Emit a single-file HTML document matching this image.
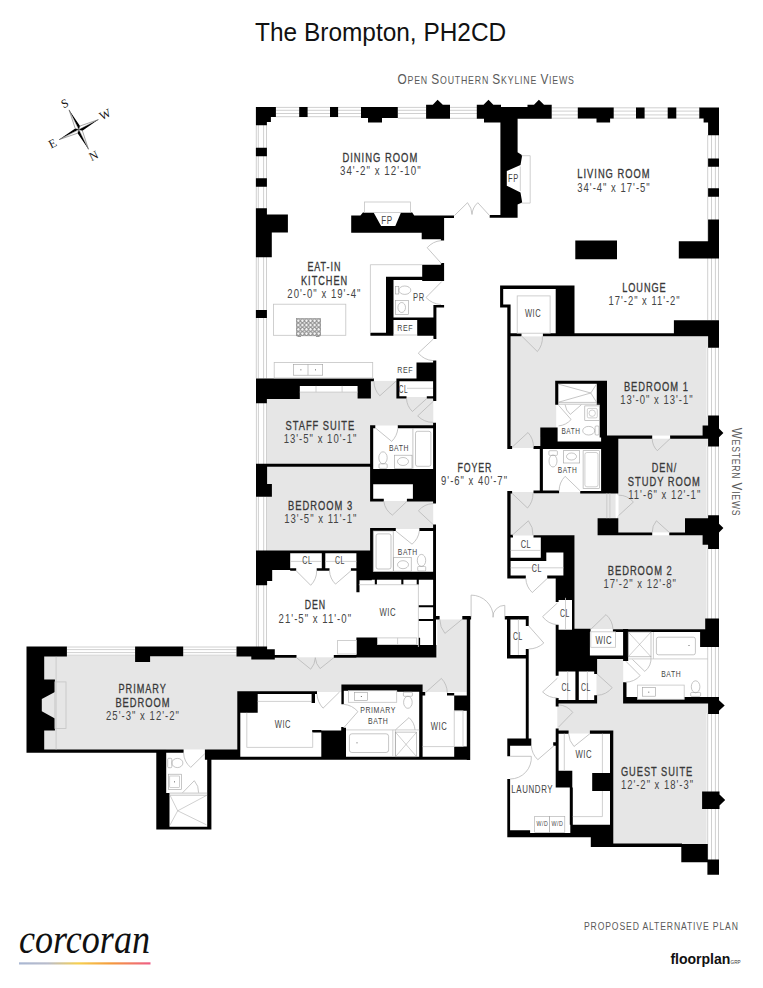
<!DOCTYPE html>
<html lang="en">
<head>
<meta charset="utf-8">
<title>The Brompton, PH2CD</title>
<style>
html,body{margin:0;padding:0;background:#fff;}
body{width:763px;height:988px;overflow:hidden;font-family:"Liberation Sans",sans-serif;}
svg{display:block;}
text{font-family:"Liberation Sans",sans-serif;}
.lb{fill:#383838;letter-spacing:1.3px;stroke:#383838;stroke-width:0.3px;}
.dm{fill:#444;letter-spacing:1.3px;}
.sm{fill:#444;letter-spacing:0.8px;}
.ttl{fill:#111;}
.cap{fill:#5a5a5a;letter-spacing:1px;}
.serif{font-family:"Liberation Serif",serif;}
</style>
</head>
<body>
<svg width="763" height="988" viewBox="0 0 763 988">
<defs>
<linearGradient id="cg" x1="0" y1="0" x2="1" y2="0">
<stop offset="0" stop-color="#a9b7d3"/>
<stop offset="0.22" stop-color="#b9bccb"/>
<stop offset="0.45" stop-color="#f6cf4e"/>
<stop offset="0.7" stop-color="#f49a3c"/>
<stop offset="1" stop-color="#ee5d86"/>
</linearGradient>
<pattern id="hatch" width="4.07" height="4.3" patternUnits="userSpaceOnUse" x="296.3" y="318.6">
<rect width="4.07" height="4.3" fill="#dcdcdc"/>
<circle cx="2.03" cy="2.15" r="1.7" fill="#f4f4f4" stroke="#5a5a5a" stroke-width="0.65"/>
</pattern>
</defs>
<rect x="266.9" y="386" width="104.8" height="78.5" fill="#e6e6e6"/>
<rect x="371" y="380.9" width="26.5" height="44.6" fill="#e6e6e6"/>
<rect x="397" y="397" width="36.3" height="28.5" fill="#e6e6e6"/>
<rect x="266.9" y="467" width="104.8" height="85" fill="#e6e6e6"/>
<rect x="370" y="501" width="63.2" height="28" fill="#e6e6e6"/>
<rect x="41" y="655.6" width="213" height="94.4" fill="#e6e6e6"/>
<rect x="230" y="657.3" width="237" height="34.7" fill="#e6e6e6"/>
<rect x="437.3" y="619.5" width="29.7" height="38.5" fill="#e6e6e6"/>
<rect x="422" y="686" width="45" height="8" fill="#e6e6e6"/>
<rect x="511" y="336.4" width="198" height="100.6" fill="#e6e6e6"/>
<rect x="511" y="437" width="29" height="11" fill="#e6e6e6"/>
<rect x="617" y="438" width="92" height="95" fill="#e6e6e6"/>
<rect x="510" y="492" width="105.8" height="43.5" fill="#e6e6e6"/>
<rect x="575" y="535" width="134" height="94" fill="#e6e6e6"/>
<rect x="598" y="519" width="111" height="17" fill="#e6e6e6"/>
<rect x="596.5" y="658.3" width="26.7" height="43.7" fill="#e6e6e6"/>
<rect x="557.3" y="701.7" width="68" height="32" fill="#e6e6e6"/>
<rect x="613.3" y="701.7" width="95.7" height="142.3" fill="#e6e6e6"/>
<rect x="299.8" y="385.9" width="57.8" height="6.2" fill="#fff"/>
<rect x="373.2" y="428.3" width="59.9" height="40.6" fill="#fff"/>
<rect x="373.2" y="484.3" width="39.7" height="14.5" fill="#fff"/>
<rect x="373.2" y="531" width="59.9" height="40.5" fill="#fff"/>
<rect x="290.2" y="553.3" width="66.2" height="14.9" fill="#fff"/>
<rect x="358.9" y="579.5" width="74.6" height="65.6" fill="#fff"/>
<rect x="166.2" y="749.5" width="41" height="77.2" fill="#fff"/>
<rect x="257.7" y="694.1" width="87.3" height="18.7" fill="#fff"/>
<rect x="240.3" y="712.8" width="81" height="44" fill="#fff"/>
<rect x="312" y="694" width="30" height="36" fill="#fff"/>
<rect x="343.8" y="690.7" width="75.4" height="66.1" fill="#fff"/>
<rect x="422.6" y="692" width="44.1" height="64.8" fill="#fff"/>
<rect x="558.3" y="383.8" width="38.5" height="21.2" fill="#fff"/>
<rect x="556.2" y="405" width="43.5" height="36.6" fill="#fff"/>
<rect x="542.9" y="449" width="58.2" height="41.9" fill="#fff"/>
<rect x="652.2" y="435.6" width="17.9" height="3.1" fill="#fff"/>
<rect x="615.7" y="495.1" width="2.8" height="21.4" fill="#fff"/>
<rect x="652.2" y="532.4" width="17.1" height="2.9" fill="#fff"/>
<rect x="510.6" y="537.6" width="30.2" height="20" fill="#fff"/>
<rect x="510.6" y="561" width="52.8" height="14.5" fill="#fff"/>
<rect x="546.3" y="552.4" width="17.1" height="8.6" fill="#fff"/>
<rect x="558.6" y="597.8" width="13.4" height="32" fill="#fff"/>
<rect x="589.9" y="629" width="33.2" height="26.8" fill="#fff"/>
<rect x="628.2" y="632" width="79.6" height="65" fill="#fff"/>
<rect x="637.6" y="685.1" width="46.6" height="14.2" fill="#fff"/>
<rect x="558.6" y="671.4" width="35.6" height="28.6" fill="#fff"/>
<rect x="558.6" y="733.7" width="51.4" height="91" fill="#fff"/>
<rect x="276" y="107" width="85" height="10.1" fill="#fff"/>
<line x1="276" y1="107.4" x2="361" y2="107.4" stroke="#c4c4c4" stroke-width="0.8"/>
<line x1="276" y1="110.3" x2="361" y2="110.3" stroke="#c4c4c4" stroke-width="0.8"/>
<line x1="276" y1="113.5" x2="361" y2="113.5" stroke="#c4c4c4" stroke-width="0.8"/>
<line x1="276" y1="116.7" x2="361" y2="116.7" stroke="#c4c4c4" stroke-width="0.8"/>
<rect x="398" y="107" width="28" height="11.6" fill="#fff"/>
<line x1="398" y1="107.4" x2="426" y2="107.4" stroke="#c4c4c4" stroke-width="0.8"/>
<line x1="398" y1="110.3" x2="426" y2="110.3" stroke="#c4c4c4" stroke-width="0.8"/>
<line x1="398" y1="113.5" x2="426" y2="113.5" stroke="#c4c4c4" stroke-width="0.8"/>
<line x1="398" y1="118.2" x2="426" y2="118.2" stroke="#c4c4c4" stroke-width="0.8"/>
<rect x="450" y="107" width="27" height="11.7" fill="#fff"/>
<line x1="450" y1="107.4" x2="477" y2="107.4" stroke="#c4c4c4" stroke-width="0.8"/>
<line x1="450" y1="110.3" x2="477" y2="110.3" stroke="#c4c4c4" stroke-width="0.8"/>
<line x1="450" y1="113.5" x2="477" y2="113.5" stroke="#c4c4c4" stroke-width="0.8"/>
<line x1="450" y1="118.3" x2="477" y2="118.3" stroke="#c4c4c4" stroke-width="0.8"/>
<rect x="551.7" y="107.4" width="148.3" height="11.2" fill="#fff"/>
<line x1="551.7" y1="107.8" x2="700" y2="107.8" stroke="#c4c4c4" stroke-width="0.8"/>
<line x1="551.7" y1="111.1" x2="700" y2="111.1" stroke="#c4c4c4" stroke-width="0.8"/>
<line x1="551.7" y1="114.9" x2="700" y2="114.9" stroke="#c4c4c4" stroke-width="0.8"/>
<line x1="551.7" y1="118.2" x2="700" y2="118.2" stroke="#c4c4c4" stroke-width="0.8"/>
<rect x="255.9" y="125" width="11" height="253.4" fill="#fff"/>
<line x1="256.3" y1="125" x2="256.3" y2="378.4" stroke="#c4c4c4" stroke-width="0.8"/>
<line x1="258.3" y1="125" x2="258.3" y2="378.4" stroke="#c4c4c4" stroke-width="0.8"/>
<line x1="263.6" y1="125" x2="263.6" y2="378.4" stroke="#c4c4c4" stroke-width="0.8"/>
<line x1="266.5" y1="125" x2="266.5" y2="378.4" stroke="#c4c4c4" stroke-width="0.8"/>
<rect x="256" y="403" width="10.9" height="61.3" fill="#fff"/>
<line x1="256.4" y1="403" x2="256.4" y2="464.3" stroke="#c4c4c4" stroke-width="0.8"/>
<line x1="258.4" y1="403" x2="258.4" y2="464.3" stroke="#c4c4c4" stroke-width="0.8"/>
<line x1="263.7" y1="403" x2="263.7" y2="464.3" stroke="#c4c4c4" stroke-width="0.8"/>
<line x1="266.5" y1="403" x2="266.5" y2="464.3" stroke="#c4c4c4" stroke-width="0.8"/>
<rect x="256" y="496.7" width="10.9" height="55.3" fill="#fff"/>
<line x1="256.4" y1="496.7" x2="256.4" y2="552" stroke="#c4c4c4" stroke-width="0.8"/>
<line x1="258.4" y1="496.7" x2="258.4" y2="552" stroke="#c4c4c4" stroke-width="0.8"/>
<line x1="263.7" y1="496.7" x2="263.7" y2="552" stroke="#c4c4c4" stroke-width="0.8"/>
<line x1="266.5" y1="496.7" x2="266.5" y2="552" stroke="#c4c4c4" stroke-width="0.8"/>
<rect x="256" y="585" width="10.9" height="62" fill="#fff"/>
<line x1="256.4" y1="585" x2="256.4" y2="647" stroke="#c4c4c4" stroke-width="0.8"/>
<line x1="258.4" y1="585" x2="258.4" y2="647" stroke="#c4c4c4" stroke-width="0.8"/>
<line x1="263.7" y1="585" x2="263.7" y2="647" stroke="#c4c4c4" stroke-width="0.8"/>
<line x1="266.5" y1="585" x2="266.5" y2="647" stroke="#c4c4c4" stroke-width="0.8"/>
<rect x="706.6" y="135" width="12.3" height="185" fill="#fff"/>
<line x1="707.7" y1="135" x2="707.7" y2="320" stroke="#c4c4c4" stroke-width="0.8"/>
<line x1="711.5" y1="135" x2="711.5" y2="320" stroke="#c4c4c4" stroke-width="0.8"/>
<line x1="715.4" y1="135" x2="715.4" y2="320" stroke="#c4c4c4" stroke-width="0.8"/>
<line x1="718.5" y1="135" x2="718.5" y2="320" stroke="#c4c4c4" stroke-width="0.8"/>
<rect x="706.6" y="347.5" width="12.3" height="69.5" fill="#fff"/>
<line x1="707.7" y1="347.5" x2="707.7" y2="417" stroke="#c4c4c4" stroke-width="0.8"/>
<line x1="711.5" y1="347.5" x2="711.5" y2="417" stroke="#c4c4c4" stroke-width="0.8"/>
<line x1="715.4" y1="347.5" x2="715.4" y2="417" stroke="#c4c4c4" stroke-width="0.8"/>
<line x1="718.5" y1="347.5" x2="718.5" y2="417" stroke="#c4c4c4" stroke-width="0.8"/>
<rect x="706.6" y="446" width="12.3" height="70" fill="#fff"/>
<line x1="707.7" y1="446" x2="707.7" y2="516" stroke="#c4c4c4" stroke-width="0.8"/>
<line x1="711.5" y1="446" x2="711.5" y2="516" stroke="#c4c4c4" stroke-width="0.8"/>
<line x1="715.4" y1="446" x2="715.4" y2="516" stroke="#c4c4c4" stroke-width="0.8"/>
<line x1="718.5" y1="446" x2="718.5" y2="516" stroke="#c4c4c4" stroke-width="0.8"/>
<rect x="706.6" y="548" width="12.3" height="71" fill="#fff"/>
<line x1="707.7" y1="548" x2="707.7" y2="619" stroke="#c4c4c4" stroke-width="0.8"/>
<line x1="711.5" y1="548" x2="711.5" y2="619" stroke="#c4c4c4" stroke-width="0.8"/>
<line x1="715.4" y1="548" x2="715.4" y2="619" stroke="#c4c4c4" stroke-width="0.8"/>
<line x1="718.5" y1="548" x2="718.5" y2="619" stroke="#c4c4c4" stroke-width="0.8"/>
<rect x="706.6" y="646" width="12.3" height="51" fill="#fff"/>
<line x1="707.7" y1="646" x2="707.7" y2="697" stroke="#c4c4c4" stroke-width="0.8"/>
<line x1="711.5" y1="646" x2="711.5" y2="697" stroke="#c4c4c4" stroke-width="0.8"/>
<line x1="715.4" y1="646" x2="715.4" y2="697" stroke="#c4c4c4" stroke-width="0.8"/>
<line x1="718.5" y1="646" x2="718.5" y2="697" stroke="#c4c4c4" stroke-width="0.8"/>
<rect x="706.6" y="713" width="12.3" height="80" fill="#fff"/>
<line x1="707.7" y1="713" x2="707.7" y2="793" stroke="#c4c4c4" stroke-width="0.8"/>
<line x1="711.5" y1="713" x2="711.5" y2="793" stroke="#c4c4c4" stroke-width="0.8"/>
<line x1="715.4" y1="713" x2="715.4" y2="793" stroke="#c4c4c4" stroke-width="0.8"/>
<line x1="718.5" y1="713" x2="718.5" y2="793" stroke="#c4c4c4" stroke-width="0.8"/>
<rect x="706.6" y="809" width="12.3" height="52" fill="#fff"/>
<line x1="707.7" y1="809" x2="707.7" y2="861" stroke="#c4c4c4" stroke-width="0.8"/>
<line x1="711.5" y1="809" x2="711.5" y2="861" stroke="#c4c4c4" stroke-width="0.8"/>
<line x1="715.4" y1="809" x2="715.4" y2="861" stroke="#c4c4c4" stroke-width="0.8"/>
<line x1="718.5" y1="809" x2="718.5" y2="861" stroke="#c4c4c4" stroke-width="0.8"/>
<rect x="66.9" y="646.6" width="68.2" height="9" fill="#fff"/>
<line x1="66.9" y1="647" x2="135.1" y2="647" stroke="#c4c4c4" stroke-width="0.8"/>
<line x1="66.9" y1="649.6" x2="135.1" y2="649.6" stroke="#c4c4c4" stroke-width="0.8"/>
<line x1="66.9" y1="652.6" x2="135.1" y2="652.6" stroke="#c4c4c4" stroke-width="0.8"/>
<line x1="66.9" y1="655.2" x2="135.1" y2="655.2" stroke="#c4c4c4" stroke-width="0.8"/>
<rect x="183.2" y="646.6" width="53.3" height="9" fill="#fff"/>
<line x1="183.2" y1="647" x2="236.5" y2="647" stroke="#c4c4c4" stroke-width="0.8"/>
<line x1="183.2" y1="649.6" x2="236.5" y2="649.6" stroke="#c4c4c4" stroke-width="0.8"/>
<line x1="183.2" y1="652.6" x2="236.5" y2="652.6" stroke="#c4c4c4" stroke-width="0.8"/>
<line x1="183.2" y1="655.2" x2="236.5" y2="655.2" stroke="#c4c4c4" stroke-width="0.8"/>
<path fill="#000" d="M255.9 107H275.9V117H255.9ZM255.9 117H270.9V122H255.9ZM255.9 122H266.9V125.3H255.9ZM299.2 107H307.6V117.1H299.2ZM330 107H338.1V117.1H330ZM361 107H397.8V118H361ZM368 118H382V122.6H368ZM426.1 104.7H450V118.8H426.1ZM432.8 104.7L437.6 99.7L442.8 104.7ZM476.8 104.7H501V118.8H476.8ZM500 107H528V118.8H500ZM527.5 104.7H551.7V118.8H527.5ZM484 118.8H500.8V122.4H484ZM483.5 104.7L488.5 99.7L493.3 104.7ZM534 104.7L538.9 99.7L544 104.7ZM500.4 118L517.6 118L517.6 152.3L522.2 155.2L520.5 165.1L506.8 171.1L506.8 185.7L520.5 192.5L522.2 202.4L517.6 204.5L517.6 217.8L500.4 217.8ZM489.7 214.9H517.6V217.8H489.7ZM577.8 107.4H613.7V118.6H577.8ZM596.5 118.6H610.1V122.6H596.5ZM636 107.4H644.6V118.6H636ZM667.7 107.4H676.3V118.6H667.7ZM699.3 107.4H719V118.6H699.3ZM703.6 118.6H719V122.4H703.6ZM708.1 122.4H719V135.2H708.1ZM255.9 147.8H266.9V156.2H255.9ZM255.9 178.2H266.9V186.7H255.9ZM255.9 208.2H266.9V257.2H255.9ZM266.9 214.5H287.9V232.6H266.9ZM266.9 232.6H271.8V257.2H266.9ZM255.9 310H266.9V318H255.9ZM708.1 158.6H719V166.8H708.1ZM708.1 188.2H719V196.8H708.1ZM708.1 219.5H719V258.6H708.1ZM678.8 241.3H708.1V258.6H678.8ZM575.3 240.5H617V259.2H575.3ZM673.9 320.3H719V334.2H673.9ZM708.1 334H719V347.8H708.1ZM351.2 215.6L360.4 215.6L362.9 212.4L373.6 212.4L381.1 226.1L395.3 226.1L401 212.4L412.2 212.4L414.2 215.6L454 215.6L454 217.9L444.1 217.9L444.1 240.5L440.9 240.5L440.9 239.3L421.7 239.3L421.7 232.8L351.2 232.8ZM422.2 264.7H444.1V280.9H422.2ZM440.9 263H444.1V265H440.9ZM386 276.7H422.2V280H386ZM386 276.7H393.5V335.7H386ZM370.4 332.7H393.5V335.7H370.4ZM433.4 305H444.1V307.5H433.4ZM433.4 307.5H436.4V338.9H433.4ZM393.5 317.5H433.4V320H393.5ZM417.2 317.5H433.4V335.7H417.2ZM416.5 362.4H436.3V378.6H416.5ZM433.1 360.6H436.3V401.1H433.1ZM396.4 378.5H436.3V381.2H396.4ZM396.4 378.5H399.4V398.5H396.4ZM396.4 396.3H406.5V398.5H396.4ZM426.8 396.3H436.3V398.5H426.8ZM256 378.4H370.9V385.9H256ZM370 378.5H373.9V381.2H370ZM256 385.9H299.8V399.1H256ZM256 399.1H266.9V403.3H256ZM357.6 385.9H370.9V398.5H357.6ZM370.1 425.3H373.2V501.4H370.1ZM370.1 425.3H375.3V428.3H370.1ZM397.8 425.3H436V428.3H397.8ZM433.1 422.7H436V503.6H433.1ZM370.1 468.9H436V484.3H370.1ZM412.9 484.3H436V501.4H412.9ZM370.1 498.8H383.8V501.4H370.1ZM406.9 498.8H412.9V501.4H406.9ZM256 463.8H370.6V466.8H256ZM256 463.8H267.1V496.8H256ZM267.1 484H271.9V496.8H267.1ZM370.1 527.9H373.2V575H370.1ZM370.1 527.9H395.8V531H370.1ZM419.4 527.9H436V531H419.4ZM433.1 524.5H436V657H433.1ZM370.1 571.8H436V579.8H370.1ZM256 550.6H371.8V553.3H256ZM256 550.6H290.2V569.9H256ZM256 569.9H272.2V581.1H256ZM256 581.1H267.1V585.3H256ZM321.8 553.3H325.3V570.8H321.8ZM290.2 568.2H296.2V570.8H290.2ZM316.7 568.2H329.5V570.8H316.7ZM350.9 568.2H356.4V570.8H350.9ZM356.4 550.6H371.8V580.2H356.4ZM356.4 580.2H359.5V592.2H356.4ZM374.8 579.5H376.9V584.7H374.8ZM401.3 579.5H403.4V584.7H401.3ZM416.7 579.5H418.8V584.7H416.7ZM418.4 605.2H433.5V607.3H418.4ZM418.4 618.9H433.5V620.9H418.4ZM418.4 637.7H420.1V647.1H418.4ZM356.4 637.5H377.4V657.5H356.4ZM377.4 645.1H436.4V657.5H377.4ZM236.5 646.6H267.1V656.5H236.5ZM251.3 649.3H274.8V659.6H251.3ZM274.8 655H296.5V657.7H274.8ZM333.8 655H356.4V657.7H333.8ZM436 616.1H439.6V619.5H436ZM462.3 616.1H471.1V619.5H462.3ZM466.8 616.1H470.2V760H466.8ZM26.5 646.6H66.9V656.6H26.5ZM26.5 646.6L44.2 646.6L44.2 679.6L54.9 679.6L54.9 692.1L41.8 698.9L41.8 711.3L54.9 718.5L54.9 730.4L44.2 730.4L44.2 752.6L26.5 752.6ZM135.1 646.6H183.2V656.3H135.1ZM135.1 656.3H150.1V661.9H135.1ZM26.5 749.5H183.6V752.8H26.5ZM204.9 749.5H237.7V759.8H204.9ZM225 756.8H470.1V759.8H225ZM156.3 752.6H166.2V793.1H156.3ZM156.3 793.1H169.5V829.6H156.3ZM156.3 826.7H211.4V829.6H156.3ZM207.2 752.6H211.4V829.6H207.2ZM174 781.5H174.8V782.3H174ZM237.3 691.2H317V694.1H237.3ZM237.3 691.2H257.7V712.8H237.3ZM237.3 712.8H240.3V756.8H237.3ZM311.6 694.1H315V703.1H311.6ZM312.2 729.9H321.3V732.4H312.2ZM321.3 730.4H346V756.8H321.3ZM341.2 727H343.8V730.4H341.2ZM341.4 684.4H422.6V690.7H341.4ZM397.1 684.4H422.6V691.7H397.1ZM341.4 690.7H343.8V704.3H341.4ZM341.4 727.8H346V756.8H341.4ZM419.2 690.7H422.6V756.8H419.2ZM360.9 696.3H361.7V697.1H360.9ZM356.6 742.4H357.4V743.2H356.6ZM454.2 695.4H466.9V710.8H454.2ZM454.2 746.6H466.9V759.7H454.2ZM422.6 692H425.2V695.4H422.6ZM447 692.9H454.2V695.4H447ZM500.1 285.6H574.5V289H500.1ZM555.7 285.6H574.5V335.7H555.7ZM500.1 285.6H503.2V307.5H500.1ZM500.1 304.4H510.4V307.5H500.1ZM507.3 304.4H510.6V449H507.3ZM507.3 333.2H521.5V336.2H507.3ZM542.9 333.2H710V336.2H542.9ZM555.2 380.7H607V383.8H555.2ZM596.8 380.7H607V405H596.8ZM599.7 405H607V437.5H599.7ZM555.2 380.7H558.3V404.7H555.2ZM540.3 427.4H557.6V449H540.3ZM507.3 445.9H512.1V449H507.3ZM533.5 445.9H540.3V449H533.5ZM557.4 441.6H607V449H557.4ZM601.1 436H618.3V493.4H601.1ZM539.8 449H542.9V493.2H539.8ZM533.5 490.4H559.1V493.2H533.5ZM580.2 490.9H618.3V493.4H580.2ZM606.8 435.6H652.2V438.7H606.8ZM670.1 435.6H708.1V438.7H670.1ZM708.1 415.6H719V446.4H708.1ZM702.6 425.5H708.1V438.7H702.6ZM719 428.5L723.4 432.9L719 437.3ZM597.6 518.2H618.3V535.3H597.6ZM618 532.4H652.2V535.3H618ZM669.3 532.4H686V535.3H669.3ZM685 518.2H719V535.3H685ZM702.6 535.3H719V544.7H702.6ZM708.1 544.7H719V549H708.1ZM708.1 515.3H719V518.2H708.1ZM719 523.8L723.4 528.1L719 532.4ZM507.3 490.9H510.6V578.6H507.3ZM507.3 490.9H512.1V493.4H507.3ZM507.3 534.8H513V537.6H507.3ZM533.5 535.3H543.8V537.6H533.5ZM543.8 535.3H574.5V552.4H543.8ZM563.4 552.4H574.5V576.4H563.4ZM555.7 576.4H574.5V600H555.7ZM540.8 537.6H543.8V558.4H540.8ZM510.4 557.8H546.3V561H510.4ZM543.8 552.4H546.3V561H543.8ZM507.3 575.5H525.8V578.6H507.3ZM547.2 575.5H563.4V578.6H547.2ZM572 597.8H574.5V629.8H572ZM555.7 597.8H558.6V602.1H555.7ZM555.7 624.7H558.6V629.8H555.7ZM574.5 628.8H590.6V631.8H574.5ZM612.9 629.2H705.2V632H612.9ZM555.7 629.8H589.9V671.4H555.7ZM589.9 658.6H597.1V671.4H589.9ZM623.1 629.1H628.2V661.1H623.1ZM589.9 655.5H628.2V658.9H589.9ZM705.2 618.4H719V646.9H705.2ZM700.1 632H705.2V646.9H700.1ZM623.1 682.2H626.5V703.4H623.1ZM623.1 697H637.6V703.4H623.1ZM637.6 699.3H684.2V703.4H637.6ZM684.2 697H719V703.4H684.2ZM708.1 697H719V714.1H708.1ZM719 700.2L724.7 705.6L719 710.7ZM688.6 645.3H689.4V646.1H688.6ZM648.4 691.7H649.2V692.5H648.4ZM504.8 616.1H528.7V619.5H504.8ZM507 616.1H510.4V658.4H507ZM507 654.9H528.7V658.4H507ZM525.8 616.1H528.7V625.9H525.8ZM525.8 649H528.7V740H525.8ZM575.4 671.4H578.8V703H575.4ZM555.7 700H597.1V703.4H555.7ZM555.7 671.4H558.6V675.7H555.7ZM555.7 697.9H558.6V706.5H555.7ZM594.2 671.4H597.1V674H594.2ZM594.2 695.3H597.1V703.4H594.2ZM555.7 728.6H558.6V771.3H555.7ZM555.7 730.6H568.6V733.7H555.7ZM589.9 730.6H613.3V733.7H589.9ZM610 730.6H613.3V846.9H610ZM555.7 770.8H572.3V787.6H555.7ZM592.2 773H610.5V791H592.2ZM569.8 787.6H572.8V824.7H569.8ZM507.3 738.5H531.3V745.7H507.3ZM507.3 745.7H510.1V756.3H507.3ZM507.3 779H510.1V837.2H507.3ZM553.2 742.2H556.2V745.7H553.2ZM507.3 830.3H530.1V837.2H507.3ZM530.1 832.9H570.3V837.2H530.1ZM570.3 824.7H613.3V837.2H570.3ZM590.8 837.2H613.3V846.9H590.8ZM613.3 843.5H682V846.9H613.3ZM681.3 844H707.8V862.3H681.3ZM707.4 859.4H719V874.8H707.4ZM702.1 791.5H719.5V809H702.1ZM719.5 794.4L725.2 800.1L719.5 805.6ZM300.5 369.5H301.3V370.3H300.5ZM315 369.5H315.8V370.3H315ZM78.8 129.6L69.1 109.9L80 126ZM78.8 129.6L98.4 119.6L82.4 130.8ZM78.8 129.6L88.5 149.3L77.6 133.2ZM78.8 129.6L59.2 139.6L75.2 128.4Z"/>
<polyline points="521.5,155.7 530.2,155.7 530.2,203.1 521.5,203.1" fill="none" stroke="#c4c4c4" stroke-width="0.8"/>
<line x1="520.3" y1="166.5" x2="520.3" y2="191" stroke="#c4c4c4" stroke-width="0.8"/>
<rect x="364.4" y="202" width="46.1" height="10.4" fill="none" stroke="#c4c4c4" stroke-width="0.8"/>
<line x1="393.5" y1="335" x2="417.2" y2="335" stroke="#c4c4c4" stroke-width="0.8"/>
<line x1="299.8" y1="392.1" x2="357.6" y2="392.1" stroke="#c4c4c4" stroke-width="0.8"/>
<line x1="316" y1="385.9" x2="316" y2="392.1" stroke="#c4c4c4" stroke-width="0.8"/>
<line x1="342.1" y1="385.9" x2="342.1" y2="392.1" stroke="#c4c4c4" stroke-width="0.8"/>
<path d="M406.9 501.4L392.4 515.1A19.9 19.9 0 0 1 383.8 501.4" fill="none" stroke="#b8b8b8" stroke-width="0.8"/>
<path d="M433.1 524.5L418.4 510.8A20.1 20.1 0 0 1 433.1 503.6" fill="none" stroke="#b8b8b8" stroke-width="0.8"/>
<rect x="379" y="463.8" width="8.2" height="4.6" fill="none" stroke="#a0a0a0" stroke-width="0.6" rx="1"/>
<ellipse cx="383" cy="457.8" rx="4.2" ry="6" fill="none" stroke="#a0a0a0" stroke-width="0.6"/>
<rect x="394.4" y="455.2" width="17.6" height="13.4" fill="none" stroke="#a0a0a0" stroke-width="0.6"/>
<ellipse cx="403" cy="461.5" rx="5.5" ry="4" fill="none" stroke="#a0a0a0" stroke-width="0.6"/>
<line x1="412.9" y1="428.3" x2="412.9" y2="468.9" stroke="#a0a0a0" stroke-width="0.6"/>
<rect x="415.5" y="431.3" width="15.4" height="35" fill="none" stroke="#a0a0a0" stroke-width="0.6" rx="2"/>
<path d="M395.8 531.0L412.0 544.2A20.9 20.9 0 0 0 419.4 531.0" fill="none" stroke="#b8b8b8" stroke-width="0.8"/>
<rect x="373.2" y="531" width="20" height="40.5" fill="none" stroke="#a0a0a0" stroke-width="0.6"/>
<rect x="376.1" y="533.9" width="14.9" height="35.1" fill="none" stroke="#a0a0a0" stroke-width="0.6" rx="2"/>
<rect x="393.7" y="557.3" width="17.5" height="13.9" fill="none" stroke="#a0a0a0" stroke-width="0.6"/>
<ellipse cx="403" cy="564.7" rx="5.5" ry="4" fill="none" stroke="#a0a0a0" stroke-width="0.6"/>
<rect x="417.7" y="566.4" width="8" height="4.6" fill="none" stroke="#a0a0a0" stroke-width="0.6" rx="1"/>
<ellipse cx="421.5" cy="560.4" rx="4.2" ry="6" fill="none" stroke="#a0a0a0" stroke-width="0.6"/>
<line x1="290.2" y1="561.4" x2="321.8" y2="561.4" stroke="#c4c4c4" stroke-width="0.8"/>
<line x1="325.3" y1="561.4" x2="356.4" y2="561.4" stroke="#c4c4c4" stroke-width="0.8"/>
<path d="M296.2 570.8L310.7 585.3A20.5 20.5 0 0 0 316.7 570.8" fill="none" stroke="#b8b8b8" stroke-width="0.8"/>
<path d="M350.9 570.8L335.5 584.1A20.3 20.3 0 0 1 329.5 570.8" fill="none" stroke="#b8b8b8" stroke-width="0.8"/>
<line x1="358.9" y1="584.7" x2="418.4" y2="584.7" stroke="#c4c4c4" stroke-width="0.8"/>
<line x1="418.4" y1="584.7" x2="418.4" y2="647" stroke="#c4c4c4" stroke-width="0.8"/>
<rect x="377.4" y="637.9" width="39.3" height="6.6" fill="none" stroke="#c4c4c4" stroke-width="0.8"/>
<line x1="397.6" y1="637.9" x2="397.6" y2="644.5" stroke="#c4c4c4" stroke-width="0.8"/>
<rect x="337.6" y="640.6" width="18.8" height="13.4" fill="none" stroke="#c4c4c4" stroke-width="0.8"/>
<path d="M296.5 657.7L310.7 669.2A18.3 18.3 0 0 0 315.3 657.7" fill="none" stroke="#b8b8b8" stroke-width="0.8"/>
<path d="M333.8 657.7L320.1 668.6A17.5 17.5 0 0 1 315.3 657.7" fill="none" stroke="#b8b8b8" stroke-width="0.8"/>
<path d="M462.0 619.4L444.9 633.4A22.1 22.1 0 0 1 439.8 619.4" fill="none" stroke="#b8b8b8" stroke-width="0.8"/>
<rect x="54.9" y="681.9" width="11.1" height="46.5" fill="none" stroke="#c4c4c4" stroke-width="0.8"/>
<line x1="56.1" y1="656.8" x2="56.1" y2="749.5" stroke="#c4c4c4" stroke-width="0.8"/>
<rect x="167.7" y="758.3" width="4.1" height="9.4" fill="none" stroke="#a0a0a0" stroke-width="0.6" rx="1"/>
<ellipse cx="177.4" cy="763" rx="5.5" ry="4.6" fill="none" stroke="#a0a0a0" stroke-width="0.6"/>
<rect x="168.3" y="774.2" width="13" height="15.3" fill="none" stroke="#a0a0a0" stroke-width="0.6"/>
<rect x="169.8" y="776" width="9.8" height="11.7" fill="none" stroke="#a0a0a0" stroke-width="0.5"/>
<line x1="169.5" y1="793.1" x2="207.2" y2="793.1" stroke="#a0a0a0" stroke-width="0.6"/>
<line x1="169.5" y1="795.2" x2="207.2" y2="795.2" stroke="#a0a0a0" stroke-width="0.6"/>
<polyline points="170.1,795.4 177.7,810.8 206.6,795.4" fill="none" stroke="#a0a0a0" stroke-width="0.5"/>
<polyline points="170.1,824.9 177.7,810.8 206.6,824.9" fill="none" stroke="#a0a0a0" stroke-width="0.5"/>
<path d="M182.5 792.8L194.3 780.7A16.9 16.9 0 0 1 198.6 792.8" fill="none" stroke="#b8b8b8" stroke-width="0.8"/>
<path d="M204.9 753.6L190.7 767.4A19.8 19.8 0 0 1 183.6 753.0" fill="none" stroke="#b8b8b8" stroke-width="0.8"/>
<polyline points="257.7,701.4 311,701.4" fill="none" stroke="#c4c4c4" stroke-width="0.8"/>
<polyline points="246.8,712.8 246.8,747.4 312.7,747.4 312.7,732.4" fill="none" stroke="#c4c4c4" stroke-width="0.8"/>
<path d="M339.5 692.0L323.0 708.2A23.1 23.1 0 0 1 317.0 694.1" fill="none" stroke="#b8b8b8" stroke-width="0.8"/>
<rect x="348.5" y="690.7" width="48.2" height="11.6" fill="none" stroke="#c4c4c4" stroke-width="0.8"/>
<rect x="354.5" y="692.5" width="13.1" height="8.1" fill="none" stroke="#a0a0a0" stroke-width="0.6"/>
<rect x="403.4" y="692.2" width="9" height="4.1" fill="none" stroke="#a0a0a0" stroke-width="0.6" rx="1"/>
<ellipse cx="407.9" cy="702.3" rx="4.3" ry="6" fill="none" stroke="#a0a0a0" stroke-width="0.6"/>
<path d="M343.7 727.8L357.9 711.6A21.5 21.5 0 0 0 343.7 704.3" fill="none" stroke="#b8b8b8" stroke-width="0.8"/>
<line x1="346" y1="729.9" x2="419.2" y2="729.9" stroke="#c4c4c4" stroke-width="0.8"/>
<rect x="349.4" y="733.8" width="39.2" height="18.7" fill="none" stroke="#a0a0a0" stroke-width="0.6" rx="2.5"/>
<line x1="392.8" y1="729.9" x2="392.8" y2="756.8" stroke="#c4c4c4" stroke-width="0.8"/>
<line x1="395.4" y1="729.9" x2="395.4" y2="756.8" stroke="#c4c4c4" stroke-width="0.8"/>
<rect x="395.4" y="732.1" width="21.3" height="24.7" fill="none" stroke="#a0a0a0" stroke-width="0.6"/>
<line x1="395.4" y1="732.1" x2="416.7" y2="756.8" stroke="#a0a0a0" stroke-width="0.5"/>
<line x1="416.7" y1="732.1" x2="395.4" y2="756.8" stroke="#a0a0a0" stroke-width="0.5"/>
<path d="M395.4 729.9L409.0 717.6A18.3 18.3 0 0 1 415.0 729.9" fill="none" stroke="#b8b8b8" stroke-width="0.8"/>
<rect x="454.2" y="710.8" width="8.8" height="35.8" fill="none" stroke="#c4c4c4" stroke-width="0.8"/>
<line x1="422.6" y1="746.6" x2="454.2" y2="746.6" stroke="#c4c4c4" stroke-width="0.8"/>
<path d="M425.2 692.9L441.4 678.4A21.7 21.7 0 0 1 447.3 692.9" fill="none" stroke="#b8b8b8" stroke-width="0.8"/>
<rect x="517.2" y="295.9" width="32.9" height="37.3" fill="none" stroke="#c4c4c4" stroke-width="0.8"/>
<path d="M521.8 336.2L537.4 351.6A21.9 21.9 0 0 0 542.4 336.2" fill="none" stroke="#b8b8b8" stroke-width="0.8"/>
<polyline points="558.6,384.2 590.8,393 596.5,384.2" fill="none" stroke="#a0a0a0" stroke-width="0.6"/>
<polyline points="558.6,402.2 590.8,393 596.5,402.2" fill="none" stroke="#a0a0a0" stroke-width="0.6"/>
<line x1="558.3" y1="402.4" x2="596.8" y2="402.4" stroke="#a0a0a0" stroke-width="0.6"/>
<line x1="558.3" y1="404.2" x2="599.7" y2="404.2" stroke="#a0a0a0" stroke-width="0.6"/>
<path d="M558.6 405.3L571.1 419.5A18.9 18.9 0 0 1 558.6 425.9" fill="none" stroke="#b8b8b8" stroke-width="0.8"/>
<path d="M581.4 404.7L570.3 414.4A14.7 14.7 0 0 1 565.1 404.7" fill="none" stroke="#b8b8b8" stroke-width="0.8"/>
<rect x="584.8" y="405.9" width="14.9" height="14.5" fill="none" stroke="#a0a0a0" stroke-width="0.6"/>
<rect x="587.3" y="408.4" width="10" height="9.5" fill="none" stroke="#a0a0a0" stroke-width="0.5" rx="1.5"/>
<ellipse cx="592.2" cy="413.2" rx="3.2" ry="3.2" fill="none" stroke="#a0a0a0" stroke-width="0.5"/>
<rect x="595.1" y="426" width="3.9" height="9" fill="none" stroke="#a0a0a0" stroke-width="0.6" rx="1"/>
<ellipse cx="588.7" cy="430.7" rx="6" ry="4.3" fill="none" stroke="#a0a0a0" stroke-width="0.6"/>
<path d="M512.1 447.2L528.0 432.5A21.7 21.7 0 0 1 533.5 447.2" fill="none" stroke="#b8b8b8" stroke-width="0.8"/>
<rect x="548.9" y="450.7" width="8.5" height="4.7" fill="none" stroke="#a0a0a0" stroke-width="0.6" rx="1"/>
<ellipse cx="553" cy="461" rx="4" ry="6" fill="none" stroke="#a0a0a0" stroke-width="0.6"/>
<rect x="563.4" y="450.7" width="16.3" height="12.3" fill="none" stroke="#a0a0a0" stroke-width="0.6"/>
<ellipse cx="571.5" cy="456.5" rx="5" ry="3.5" fill="none" stroke="#a0a0a0" stroke-width="0.6"/>
<rect x="583.1" y="450.7" width="16.6" height="37.9" fill="none" stroke="#a0a0a0" stroke-width="0.6"/>
<rect x="584.9" y="452.5" width="13.1" height="34.3" fill="none" stroke="#a0a0a0" stroke-width="0.5" rx="2"/>
<path d="M580.2 490.9L565.1 476.3A21.0 21.0 0 0 0 559.1 490.9" fill="none" stroke="#b8b8b8" stroke-width="0.8"/>
<path d="M670.1 438.7L657.3 450.7A17.5 17.5 0 0 1 652.2 438.7" fill="none" stroke="#b8b8b8" stroke-width="0.8"/>
<line x1="606.8" y1="493.4" x2="606.8" y2="518.2" stroke="#c4c4c4" stroke-width="0.8"/>
<line x1="609.9" y1="493.4" x2="609.9" y2="518.2" stroke="#c4c4c4" stroke-width="0.8"/>
<path d="M618.5 515.7L633.4 502.0A20.2 20.2 0 0 0 618.5 495.1" fill="none" stroke="#b8b8b8" stroke-width="0.8"/>
<path d="M669.3 532.4L656.4 520.8A17.3 17.3 0 0 0 652.2 532.4" fill="none" stroke="#b8b8b8" stroke-width="0.8"/>
<line x1="510.6" y1="550.4" x2="540.8" y2="550.4" stroke="#c4c4c4" stroke-width="0.8"/>
<line x1="510.6" y1="567.8" x2="563.4" y2="567.8" stroke="#c4c4c4" stroke-width="0.8"/>
<path d="M512.1 493.4L527.5 508.0A21.2 21.2 0 0 0 533.0 493.4" fill="none" stroke="#b8b8b8" stroke-width="0.8"/>
<path d="M512.1 535.3L528.4 520.8A21.8 21.8 0 0 1 533.0 535.3" fill="none" stroke="#b8b8b8" stroke-width="0.8"/>
<line x1="565.5" y1="597.8" x2="565.5" y2="629.8" stroke="#c4c4c4" stroke-width="0.8"/>
<path d="M557.4 603.0L542.6 616.6A20.1 20.1 0 0 0 557.4 624.7" fill="none" stroke="#b8b8b8" stroke-width="0.8"/>
<rect x="590.8" y="631.8" width="24.6" height="15.5" fill="none" stroke="#c4c4c4" stroke-width="0.8"/>
<path d="M590.8 629.3L606.0 614.6A21.1 21.1 0 0 1 613.0 629.4" fill="none" stroke="#b8b8b8" stroke-width="0.8"/>
<polyline points="628.2,632 651,656.8" fill="none" stroke="#a0a0a0" stroke-width="0.5"/>
<polyline points="651,632 628.2,656.8" fill="none" stroke="#a0a0a0" stroke-width="0.5"/>
<rect x="628.2" y="632" width="22.8" height="24.8" fill="none" stroke="#a0a0a0" stroke-width="0.6"/>
<line x1="628.2" y1="658.9" x2="707.8" y2="658.9" stroke="#c4c4c4" stroke-width="0.8"/>
<line x1="653.4" y1="632" x2="653.4" y2="658.9" stroke="#c4c4c4" stroke-width="0.8"/>
<rect x="656.4" y="637.2" width="39" height="17.6" fill="none" stroke="#a0a0a0" stroke-width="0.6" rx="2"/>
<path d="M625.7 661.1L640.2 675.6A20.5 20.5 0 0 1 625.7 682.2" fill="none" stroke="#b8b8b8" stroke-width="0.8"/>
<path d="M632.5 659.5L644.8 671.4A17.1 17.1 0 0 0 651.0 656.8" fill="none" stroke="#b8b8b8" stroke-width="0.8"/>
<rect x="637.6" y="685.1" width="46.6" height="14.2" fill="none" stroke="#c4c4c4" stroke-width="0.8"/>
<rect x="642.4" y="687.6" width="13.2" height="8.6" fill="none" stroke="#a0a0a0" stroke-width="0.6"/>
<rect x="690.7" y="692.4" width="9.9" height="4" fill="none" stroke="#a0a0a0" stroke-width="0.6" rx="1"/>
<ellipse cx="695.6" cy="686.8" rx="4.3" ry="6" fill="none" stroke="#a0a0a0" stroke-width="0.6"/>
<line x1="518.4" y1="619.5" x2="518.4" y2="654.9" stroke="#c4c4c4" stroke-width="0.8"/>
<path d="M528.7 625.9L543.8 643.0A22.8 22.8 0 0 1 528.7 649.0" fill="none" stroke="#b8b8b8" stroke-width="0.8"/>
<path d="M471.1 617.3L471.1 595.1A22.2 22.2 0 0 1 493.3 617.3" fill="none" stroke="#b8b8b8" stroke-width="0.8"/>
<path d="M504.8 617.3L504.8 605.3A12.0 12.0 0 0 0 492.8 617.3" fill="none" stroke="#b8b8b8" stroke-width="0.8"/>
<path d="M547.2 578.5L532.3 592.5A20.4 20.4 0 0 1 525.8 578.5" fill="none" stroke="#b8b8b8" stroke-width="0.8"/>
<line x1="567.7" y1="671.4" x2="567.7" y2="700" stroke="#c4c4c4" stroke-width="0.8"/>
<line x1="587.4" y1="671.4" x2="587.4" y2="700" stroke="#c4c4c4" stroke-width="0.8"/>
<path d="M557.4 678.2L542.6 691.9A20.2 20.2 0 0 0 557.4 697.9" fill="none" stroke="#b8b8b8" stroke-width="0.8"/>
<path d="M597.1 674.0L612.2 687.6A20.3 20.3 0 0 1 597.1 695.3" fill="none" stroke="#b8b8b8" stroke-width="0.8"/>
<path d="M558.6 727.0L572.8 712.4A20.4 20.4 0 0 0 558.6 704.8" fill="none" stroke="#b8b8b8" stroke-width="0.8"/>
<line x1="564.3" y1="733.7" x2="564.3" y2="770.8" stroke="#c4c4c4" stroke-width="0.8"/>
<line x1="602.4" y1="733.7" x2="602.4" y2="773" stroke="#c4c4c4" stroke-width="0.8"/>
<polyline points="602.4,791 602.4,816.6 572.8,816.6" fill="none" stroke="#c4c4c4" stroke-width="0.8"/>
<path d="M589.9 733.7L574.0 746.5A20.4 20.4 0 0 1 568.6 733.7" fill="none" stroke="#b8b8b8" stroke-width="0.8"/>
<path d="M510.1 756.3L531.3 756.3A21.2 21.2 0 0 1 510.1 779.0" fill="none" stroke="#b8b8b8" stroke-width="0.8"/>
<path d="M554.0 745.7L537.8 759.7A21.4 21.4 0 0 1 531.3 745.7" fill="none" stroke="#b8b8b8" stroke-width="0.8"/>
<rect x="534.7" y="816.3" width="15" height="16.2" fill="none" stroke="#aaa" stroke-width="0.6"/>
<rect x="549.7" y="816.3" width="15.1" height="16.2" fill="none" stroke="#aaa" stroke-width="0.6"/>
<text x="670.4" y="963.8" font-size="14" font-weight="bold" fill="#111" textLength="60" lengthAdjust="spacingAndGlyphs">floorplan</text>
<text x="730.6" y="963.8" font-size="4.5" fill="#333" textLength="10" lengthAdjust="spacingAndGlyphs">GRP</text>
<text class="serif" x="19" y="952.6" font-size="42.5" font-style="italic" fill="#111" textLength="131" lengthAdjust="spacingAndGlyphs">corcoran</text>
<rect x="19" y="962.3" width="131.5" height="2.2" fill="url(#cg)"/>
<path d="M454.4 215.6L467.5 202.7A18.4 18.4 0 0 1 472.0 214.5" fill="none" stroke="#b8b8b8" stroke-width="0.8"/>
<path d="M489.6 215.6L477.8 202.7A17.5 17.5 0 0 0 472.0 214.5" fill="none" stroke="#b8b8b8" stroke-width="0.8"/>
<path d="M441.4 263.5L427.2 247.7A21.2 21.2 0 0 1 441.0 240.6" fill="none" stroke="#b8b8b8" stroke-width="0.8"/>
<path d="M441.8 281.5L426.0 297.5A22.5 22.5 0 0 0 441.0 304.5" fill="none" stroke="#b8b8b8" stroke-width="0.8"/>
<path d="M433.5 338.9L418.3 353.1A20.8 20.8 0 0 0 433.1 360.6" fill="none" stroke="#b8b8b8" stroke-width="0.8"/>
<polyline points="370.4,333 370.4,264.7 422.2,264.7" fill="none" stroke="#c4c4c4" stroke-width="0.8"/>
<rect x="395.3" y="286.5" width="3.5" height="7.5" fill="none" stroke="#a0a0a0" stroke-width="0.6"/>
<ellipse cx="404.8" cy="290.2" rx="6" ry="4.2" fill="none" stroke="#a0a0a0" stroke-width="0.6"/>
<rect x="395.3" y="300.3" width="13.2" height="14.2" fill="none" stroke="#a0a0a0" stroke-width="0.6"/>
<ellipse cx="401.7" cy="307.5" rx="3.8" ry="5" fill="none" stroke="#a0a0a0" stroke-width="0.6"/>
<rect x="273.5" y="304.2" width="72.3" height="31.1" fill="none" stroke="#c4c4c4" stroke-width="0.8"/>
<rect x="296.3" y="318.6" width="24.4" height="17.2" fill="url(#hatch)" stroke="#888" stroke-width="0.6"/>
<line x1="297.5" y1="336.5" x2="301" y2="336.5" stroke="#999" stroke-width="1"/>
<line x1="316" y1="336.5" x2="319.5" y2="336.5" stroke="#999" stroke-width="1"/>
<rect x="274.2" y="362.4" width="98.5" height="15.6" fill="none" stroke="#c4c4c4" stroke-width="0.8"/>
<rect x="293.6" y="364.4" width="29.1" height="10.8" fill="none" stroke="#a0a0a0" stroke-width="0.6"/>
<line x1="308" y1="364.4" x2="308" y2="375.2" stroke="#a0a0a0" stroke-width="0.6"/>
<line x1="407" y1="388.3" x2="433" y2="388.3" stroke="#c4c4c4" stroke-width="0.8"/>
<path d="M396.0 381.2L379.8 395.8A21.8 21.8 0 0 1 373.9 381.2" fill="none" stroke="#b8b8b8" stroke-width="0.8"/>
<path d="M426.8 398.5L412.4 411.5A19.4 19.4 0 0 1 406.5 398.5" fill="none" stroke="#b8b8b8" stroke-width="0.8"/>
<path d="M433.5 401.1L417.7 415.9A21.6 21.6 0 0 0 433.1 422.4" fill="none" stroke="#b8b8b8" stroke-width="0.8"/>
<path d="M375.1 427.7L391.7 441.4A21.5 21.5 0 0 0 397.9 428.3" fill="none" stroke="#b8b8b8" stroke-width="0.8"/>
<polygon points="78.8,129.6 69.1,109.9 75.2,128.4" fill="#fff" stroke="#222" stroke-width="0.4"/>
<polygon points="78.8,129.6 98.4,119.6 80,126" fill="#fff" stroke="#222" stroke-width="0.4"/>
<polygon points="78.8,129.6 88.5,149.3 82.4,130.8" fill="#fff" stroke="#222" stroke-width="0.4"/>
<polygon points="78.8,129.6 59.2,139.6 77.6,133.2" fill="#fff" stroke="#222" stroke-width="0.4"/>
<text class="lb" x="342.4" y="161.5" font-size="12.2" textLength="75.9" lengthAdjust="spacingAndGlyphs">DINING ROOM</text>
<text class="dm" x="340" y="175.1" font-size="12.2" textLength="81.7" lengthAdjust="spacingAndGlyphs">34'-2&quot; x 12'-10&quot;</text>
<text class="sm" x="381.2" y="223.5" font-size="10" textLength="11.6" lengthAdjust="spacingAndGlyphs">FP</text>
<text class="lb" x="307.4" y="271.4" font-size="12.2" textLength="33.9" lengthAdjust="spacingAndGlyphs">EAT-IN</text>
<text class="lb" x="301" y="284.7" font-size="12.2" textLength="47.2" lengthAdjust="spacingAndGlyphs">KITCHEN</text>
<text class="dm" x="287.3" y="297.8" font-size="12.2" textLength="74.1" lengthAdjust="spacingAndGlyphs">20'-0&quot; x 19'-4&quot;</text>
<text class="sm" x="413" y="300.8" font-size="10.2" textLength="11.8" lengthAdjust="spacingAndGlyphs">PR</text>
<text class="sm" x="397.3" y="331" font-size="9.3" textLength="16" lengthAdjust="spacingAndGlyphs">REF</text>
<text class="sm" x="397.3" y="373.3" font-size="9.3" textLength="16" lengthAdjust="spacingAndGlyphs">REF</text>
<text class="sm" x="398.8" y="392.7" font-size="10.2" textLength="9.2" lengthAdjust="spacingAndGlyphs">CL</text>
<text class="sm" x="508" y="182.3" font-size="10" textLength="10.8" lengthAdjust="spacingAndGlyphs">FP</text>
<text class="lb" x="577.3" y="178.2" font-size="12.2" textLength="73.2" lengthAdjust="spacingAndGlyphs">LIVING ROOM</text>
<text class="dm" x="577.3" y="191.7" font-size="12.2" textLength="73.4" lengthAdjust="spacingAndGlyphs">34'-4&quot; x 17'-5&quot;</text>
<text class="lb" x="622.2" y="291.6" font-size="12.2" textLength="44.5" lengthAdjust="spacingAndGlyphs">LOUNGE</text>
<text class="dm" x="608.6" y="304.9" font-size="12.2" textLength="72" lengthAdjust="spacingAndGlyphs">17'-2&quot; x 11'-2&quot;</text>
<text class="sm" x="524.9" y="316.6" font-size="10.4" textLength="16.3" lengthAdjust="spacingAndGlyphs">WIC</text>
<text class="lb" x="623.9" y="391" font-size="12.2" textLength="65" lengthAdjust="spacingAndGlyphs">BEDROOM 1</text>
<text class="dm" x="620.2" y="403.8" font-size="12.2" textLength="73.5" lengthAdjust="spacingAndGlyphs">13'-0&quot; x 13'-1&quot;</text>
<text class="lb" x="285.6" y="430.1" font-size="12.2" textLength="69.6" lengthAdjust="spacingAndGlyphs">STAFF SUITE</text>
<text class="dm" x="283.7" y="443.3" font-size="12.2" textLength="73.7" lengthAdjust="spacingAndGlyphs">13'-5&quot; x 10'-1&quot;</text>
<text class="sm" x="388.9" y="450.9" font-size="8.8" textLength="20.2" lengthAdjust="spacingAndGlyphs">BATH</text>
<text class="lb" x="457.4" y="471.8" font-size="12.2" textLength="35" lengthAdjust="spacingAndGlyphs">FOYER</text>
<text class="dm" x="441.1" y="485" font-size="12.2" textLength="66.9" lengthAdjust="spacingAndGlyphs">9'-6&quot; x 40'-7&quot;</text>
<text class="lb" x="288" y="510" font-size="12.2" textLength="65.1" lengthAdjust="spacingAndGlyphs">BEDROOM 3</text>
<text class="dm" x="284.2" y="523.2" font-size="12.2" textLength="73.2" lengthAdjust="spacingAndGlyphs">13'-5&quot; x 11'-1&quot;</text>
<text class="sm" x="397.8" y="554.8" font-size="8.8" textLength="19.9" lengthAdjust="spacingAndGlyphs">BATH</text>
<text class="sm" x="302.2" y="564.4" font-size="10.2" textLength="10.2" lengthAdjust="spacingAndGlyphs">CL</text>
<text class="sm" x="335" y="564.4" font-size="10.2" textLength="10" lengthAdjust="spacingAndGlyphs">CL</text>
<text class="lb" x="304.7" y="609.4" font-size="12.2" textLength="21.4" lengthAdjust="spacingAndGlyphs">DEN</text>
<text class="dm" x="278.6" y="622.9" font-size="12.2" textLength="73.5" lengthAdjust="spacingAndGlyphs">21'-5&quot; x 11'-0&quot;</text>
<text class="sm" x="379.4" y="616" font-size="10.6" textLength="16.8" lengthAdjust="spacingAndGlyphs">WIC</text>
<text class="sm" x="561.4" y="433.7" font-size="8.8" textLength="19.1" lengthAdjust="spacingAndGlyphs">BATH</text>
<text class="sm" x="557.8" y="472.9" font-size="8.8" textLength="19.6" lengthAdjust="spacingAndGlyphs">BATH</text>
<text class="lb" x="651.7" y="472.4" font-size="12.2" textLength="25.6" lengthAdjust="spacingAndGlyphs">DEN/</text>
<text class="lb" x="627.7" y="485.6" font-size="12.2" textLength="73.2" lengthAdjust="spacingAndGlyphs">STUDY ROOM</text>
<text class="dm" x="628.2" y="498.8" font-size="12.2" textLength="73.1" lengthAdjust="spacingAndGlyphs">11'-6&quot; x 12'-1&quot;</text>
<text class="sm" x="520.7" y="547.6" font-size="10.2" textLength="10.6" lengthAdjust="spacingAndGlyphs">CL</text>
<text class="sm" x="531.8" y="572.3" font-size="10.2" textLength="10.2" lengthAdjust="spacingAndGlyphs">CL</text>
<text class="lb" x="607.7" y="575" font-size="12.2" textLength="65" lengthAdjust="spacingAndGlyphs">BEDROOM 2</text>
<text class="dm" x="603.4" y="588.2" font-size="12.2" textLength="73.6" lengthAdjust="spacingAndGlyphs">17'-2&quot; x 12'-8&quot;</text>
<text class="sm" x="560" y="617.4" font-size="10.2" textLength="9.9" lengthAdjust="spacingAndGlyphs">CL</text>
<text class="sm" x="513" y="640.2" font-size="10.2" textLength="9.7" lengthAdjust="spacingAndGlyphs">CL</text>
<text class="sm" x="595.4" y="643.7" font-size="10.6" textLength="16.8" lengthAdjust="spacingAndGlyphs">WIC</text>
<text class="sm" x="661.2" y="677" font-size="8.8" textLength="20.1" lengthAdjust="spacingAndGlyphs">BATH</text>
<text class="sm" x="561.4" y="691" font-size="10.2" textLength="9.7" lengthAdjust="spacingAndGlyphs">CL</text>
<text class="sm" x="580.9" y="691" font-size="10.2" textLength="9.9" lengthAdjust="spacingAndGlyphs">CL</text>
<text class="sm" x="575.4" y="758.1" font-size="10.6" textLength="16.8" lengthAdjust="spacingAndGlyphs">WIC</text>
<text class="lb" x="620.9" y="776.2" font-size="12.2" textLength="72.3" lengthAdjust="spacingAndGlyphs">GUEST SUITE</text>
<text class="dm" x="620.9" y="789.2" font-size="12.2" textLength="73.2" lengthAdjust="spacingAndGlyphs">12'-2&quot; x 18'-3&quot;</text>
<text class="sm" x="511.3" y="793.2" font-size="10.5" textLength="41.9" lengthAdjust="spacingAndGlyphs">LAUNDRY</text>
<text class="sm" x="536.6" y="826" font-size="7.8" textLength="11.8" lengthAdjust="spacingAndGlyphs">W/D</text>
<text class="sm" x="551.4" y="826" font-size="7.8" textLength="12" lengthAdjust="spacingAndGlyphs">W/D</text>
<text class="lb" x="118.5" y="693" font-size="12.2" textLength="48.3" lengthAdjust="spacingAndGlyphs">PRIMARY</text>
<text class="lb" x="115.4" y="706.5" font-size="12.2" textLength="55.2" lengthAdjust="spacingAndGlyphs">BEDROOM</text>
<text class="dm" x="106" y="719.8" font-size="12.2" textLength="74" lengthAdjust="spacingAndGlyphs">25'-3&quot; x 12'-2&quot;</text>
<text class="sm" x="274.8" y="727.8" font-size="10.6" textLength="16.3" lengthAdjust="spacingAndGlyphs">WIC</text>
<text class="sm" x="360.2" y="712.8" font-size="9.6" textLength="35.8" lengthAdjust="spacingAndGlyphs">PRIMARY</text>
<text class="sm" x="368.1" y="724.4" font-size="9.6" textLength="20.3" lengthAdjust="spacingAndGlyphs">BATH</text>
<text class="sm" x="430.8" y="730.4" font-size="10.6" textLength="16.6" lengthAdjust="spacingAndGlyphs">WIC</text>
<text class="ttl" x="255.1" y="40.5" font-size="25.2" textLength="251.1" lengthAdjust="spacingAndGlyphs">The Brompton, PH2CD</text>
<text class="cap" x="397.5" y="83.7" font-size="10.8" textLength="177.3" lengthAdjust="spacingAndGlyphs"><tspan font-size="14.6">O</tspan>PEN <tspan font-size="14.6">S</tspan>OUTHERN <tspan font-size="14.6">S</tspan>KYLINE <tspan font-size="14.6">V</tspan>IEWS</text>
<text class="cap" transform="translate(731.8,427.8) rotate(90)" x="0" y="0" font-size="10.8" textLength="88.6" lengthAdjust="spacingAndGlyphs"><tspan font-size="14.6">W</tspan>ESTERN <tspan font-size="14.6">V</tspan>IEWS</text>
<text class="cap" x="584" y="929.8" font-size="10" textLength="154.8" lengthAdjust="spacingAndGlyphs">PROPOSED ALTERNATIVE PLAN</text>
<text class="serif" transform="translate(64.6,103.4) rotate(-26.4)" x="0" y="4" font-size="12" text-anchor="middle" fill="#111">S</text>
<text class="serif" transform="translate(105.0,114.3) rotate(-26.4)" x="0" y="4" font-size="12" text-anchor="middle" fill="#111">W</text>
<text class="serif" transform="translate(93.5,155.8) rotate(-26.4)" x="0" y="4" font-size="12" text-anchor="middle" fill="#111">N</text>
<text class="serif" transform="translate(52.6,143.5) rotate(-26.4)" x="0" y="4" font-size="12" text-anchor="middle" fill="#111">E</text>
</svg>
</body>
</html>
